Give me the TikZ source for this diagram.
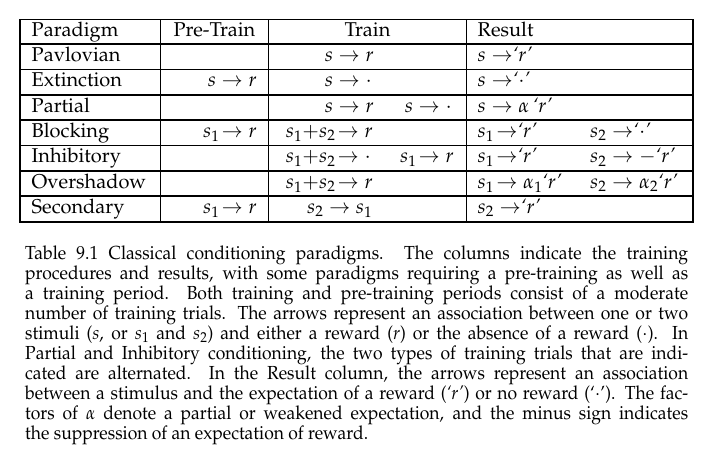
\documentclass[tikz,border=0pt]{standalone}
\usepackage[T1]{fontenc}
\usepackage{mathpazo}
\begin{document}
\begin{tikzpicture}[x=1pt,y=-1pt,
  rule/.style={line width=1.2pt},
  cell/.style={inner sep=0pt, font=\fontsize{20}{22}\selectfont},
  lft/.style={cell, anchor=base west},
  rgt/.style={cell, anchor=base east},
  ctr/.style={cell, anchor=base},
  capline/.style={inner sep=0pt, anchor=base west, font=\fontsize{17.5}{20}\selectfont}]
\useasboundingbox (0,0) rectangle (720,463);
% table frame and rules
\draw[rule] (20,19.5) rectangle (693,222);
\foreach \yy in {44,69.5,95,120,145.5,171,196} \draw[rule] (20,\yy) -- (693,\yy);
\foreach \xx in {160.5,268.5,466.5} \draw[rule] (\xx,19.5) -- (\xx,222);
% header
\node[lft] (h1) at (31.5,36.3) {Paradigm};
\node[ctr] (h2) at (214.5,36.3) {Pre-Train};
\node[ctr] (h3) at (367.5,36.3) {Train};
\node[lft] (h4) at (477.5,36.3) {Result};
% first column
\node[lft] (p1) at (31.5,61.3) {Pavlovian};
\node[lft] (p2) at (31.5,86.8) {Extinction};
\node[lft] (p3) at (31.5,112.3) {Partial};
\node[lft] (p4) at (31.5,137.3) {Blocking};
\node[lft] (p5) at (31.5,162.8) {Inhibitory};
\node[lft] (p6) at (31.5,188.3) {Overshadow};
\node[lft] (p7) at (31.5,213.3) {Secondary};
% pre-train
\node[rgt] (q2) at (257,86.8) {$s\rightarrow r$};
\node[rgt] (q4) at (257,137.3) {$s_1\!\rightarrow r$};
\node[rgt] (q7) at (257,213.3) {$s_1\!\rightarrow r$};
% train
\node[rgt] (t1) at (374,61.3) {$s\rightarrow r$};
\node[rgt] (t2) at (372,86.8) {$s\rightarrow\cdot$};
\node[rgt] (t3) at (374,112.3) {$s\rightarrow r$};
\node[rgt] (t3b) at (452,112.3) {$s\rightarrow\cdot$};
\node[rgt] (t4) at (373,137.3) {$s_1{+}s_2\!\rightarrow r$};
\node[rgt] (t5) at (371,162.8) {$s_1{+}s_2\!\rightarrow\cdot$};
\node[rgt] (t5b) at (454,162.8) {$s_1\!\rightarrow r$};
\node[rgt] (t6) at (373,188.3) {$s_1{+}s_2\!\rightarrow r$};
\node[rgt] (t7) at (372.5,213.3) {$s_2\rightarrow s_1$};
% result
\node[lft] (r1) at (477.5,61.3) {$s\rightarrow$\textit{`r'}};
\node[lft] (r2) at (477.5,86.8) {$s\rightarrow$\textit{`}$\cdot$\textit{'}};
\node[lft] (r3) at (477.5,112.3) {$s\rightarrow\alpha\,$\textit{`r'}};
\node[lft] (r4) at (477.5,137.3) {$s_1\!\rightarrow$\textit{`r'}};
\node[lft] (r4b) at (590,137.3) {$s_2\rightarrow$\textit{`}$\cdot$\textit{'}};
\node[lft] (r5) at (477.5,162.8) {$s_1\!\rightarrow$\textit{`r'}};
\node[lft] (r5b) at (590,162.8) {$s_2\rightarrow -$\textit{`r'}};
\node[lft] (r6) at (477.5,188.3) {$s_1\!\rightarrow\alpha_1$\textit{`r'}};
\node[lft] (r6b) at (590,188.3) {$s_2\rightarrow\alpha_2$\textit{`r'}};
\node[lft] (r7) at (477.5,213.3) {$s_2\rightarrow$\textit{`r'}};
% caption
\newcommand{\capl}[1]{\scalebox{1}[1.08]{\makebox[663pt][s]{#1}}}
\node[capline] (c1) at (25,259) {\capl{Table 9.1 Classical conditioning paradigms.\ \ The columns indicate the training}};
\node[capline] (c2) at (25,279.1) {\capl{procedures and results, with some paradigms requiring a pre-training as well as}};
\node[capline] (c3) at (25,299.2) {\capl{a training period.\ \ Both training and pre-training periods consist of a moderate}};
\node[capline] (c4) at (25,319.3) {\capl{number of training trials. The arrows represent an association between one or two}};
\node[capline] (c5) at (25,339.4) {\capl{stimuli (\textit{s}, or $s_1$ and $s_2$) and either a reward (\textit{r}) or the absence of a reward ($\cdot$).\ \ In}};
\node[capline] (c6) at (25,359.5) {\capl{Partial and Inhibitory conditioning, the two types of training trials that are indi-}};
\node[capline] (c7) at (25,379.6) {\capl{cated are alternated.\ \ In the Result column, the arrows represent an association}};
\node[capline] (c8) at (25,399.7) {\capl{between a stimulus and the expectation of a reward (\textit{`r'}) or no reward (`$\cdot$'). The fac-}};
\node[capline] (c9) at (25,419.8) {\capl{tors of $\alpha$ denote a partial or weakened expectation, and the minus sign indicates}};
\node[capline] (c10) at (25,439.9) {\scalebox{1}[1.08]{the suppression of an expectation of reward.}};
\end{tikzpicture}
\end{document}
